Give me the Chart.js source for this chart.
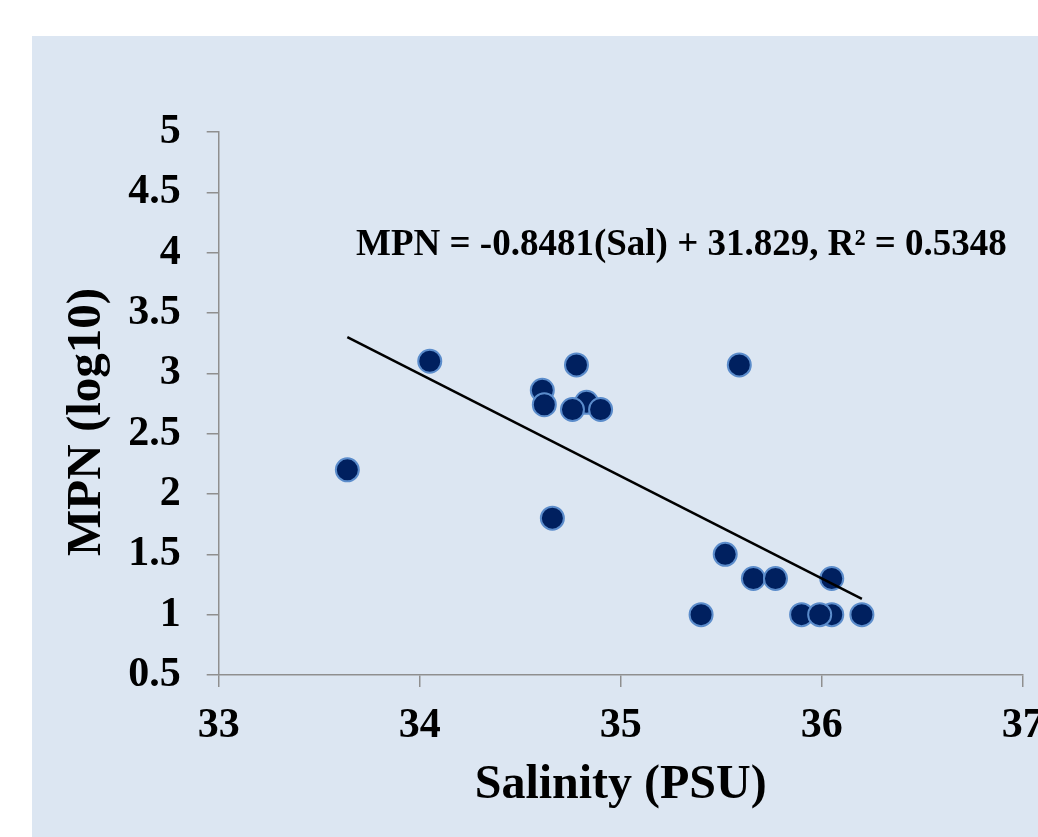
<!DOCTYPE html>
<html>
<head>
<meta charset="utf-8">
<script src="https://cdn.jsdelivr.net/npm/chart.js@4/dist/chart.umd.min.js"></script>
<style>
    html, body { margin: 0; padding: 0; background: #ffffff; width: 1038px; height: 837px; overflow: hidden; }
    #panel { position: absolute; left: 32px; top: 36px; width: 1006px; height: 801px; background: #dce6f2; }
    #chart { position: absolute; left: 0; top: 0; }
</style>
</head>
<body>
<div id="panel"></div>
<canvas id="chart" width="1060" height="837"></canvas>
<script>
// Salinity (PSU) vs MPN (log10)
const salinity = [33.64, 34.05, 34.83, 34.61, 34.62, 34.66, 34.76, 34.78, 34.90, 35.40,
                  35.52, 35.59, 35.66, 35.77, 35.90, 36.05, 36.05, 35.99, 36.20];
const mpn      = [2.20, 3.10, 2.76, 2.86, 2.74, 1.80, 2.70, 3.07, 2.70, 1.00,
                  1.50, 3.07, 1.30, 1.30, 1.00, 1.00, 1.30, 1.00, 1.00];

// Linear trend line end points (min / max salinity)
const trendX = [33.64, 36.20];
const trendY = [3.30, 1.13];

const equationText = 'MPN = -0.8481(Sal) + 31.829, R\u00B2 = 0.5348';
const equationPos = { x: 33.683, y: 4.06 };

const xTitle = 'Salinity (PSU)';
const yTitle = 'MPN (log10)';

const FONT = "'Liberation Serif', 'Times New Roman', serif";
const axisGray = '#8f8f8f';

// Draws the regression equation at a data position
const equationLabel = {
    id: 'equationLabel',
    afterDatasetsDraw(chart) {
        const ctx = chart.ctx;
        const xs = chart.scales.x, ys = chart.scales.y;
        ctx.save();
        ctx.font = 'bold 37px ' + FONT;
        ctx.fillStyle = '#000000';
        ctx.textAlign = 'left';
        ctx.textBaseline = 'middle';
        ctx.fillText(equationText, xs.getPixelForValue(equationPos.x), ys.getPixelForValue(equationPos.y));
        ctx.restore();
    }
};

new Chart(document.getElementById('chart'), {
    type: 'scatter',
    data: {
        datasets: [
            {
                type: 'line',
                label: 'Trend',
                data: trendX.map((x, i) => ({ x: x, y: trendY[i] })),
                borderColor: '#000000',
                borderWidth: 2.5,
                pointRadius: 0,
                fill: false,
                order: 0
            },
            {
                label: 'MPN',
                data: salinity.map((x, i) => ({ x: x, y: mpn[i] })),
                backgroundColor: '#00205f',
                borderColor: '#5b8ccb',
                borderWidth: 2,
                pointRadius: 11.5,
                order: 1
            }
        ]
    },
    options: {
        responsive: false,
        animation: false,
        layout: { padding: { top: 132, right: 37.3, left: 0, bottom: 0 } },
        plugins: {
            legend: { display: false },
            tooltip: { enabled: false }
        },
        scales: {
            x: {
                type: 'linear',
                min: 33,
                max: 37,
                ticks: {
                    stepSize: 1,
                    color: '#000000',
                    padding: 14,
                    maxRotation: 0,
                    font: { family: FONT, size: 42, weight: 'bold' }
                },
                grid: { drawOnChartArea: false, drawTicks: true, tickLength: 12, color: axisGray, lineWidth: 1.5 },
                border: { color: axisGray, width: 1.5 },
                title: {
                    display: true,
                    text: xTitle,
                    color: '#000000',
                    padding: { top: 0, bottom: 23 },
                    font: { family: FONT, size: 48, weight: 'bold' }
                },
                afterFit(scale) { scale.height = 162; }
            },
            y: {
                type: 'linear',
                min: 0.5,
                max: 5,
                ticks: {
                    stepSize: 0.5,
                    color: '#000000',
                    padding: 26,
                    callback: v => String(v),
                    font: { family: FONT, size: 42, weight: 'bold' }
                },
                grid: { drawOnChartArea: false, drawTicks: true, tickLength: 12, color: axisGray, lineWidth: 1.5 },
                border: { color: axisGray, width: 1.5 },
                title: {
                    display: true,
                    text: yTitle + '   ',
                    color: '#000000',
                    padding: { top: 58, bottom: 0 },
                    font: { family: FONT, size: 49, weight: 'bold' }
                },
                afterFit(scale) { scale.width = 218.7; }
            }
        }
    },
    plugins: [equationLabel]
});
</script>
</body>
</html>
